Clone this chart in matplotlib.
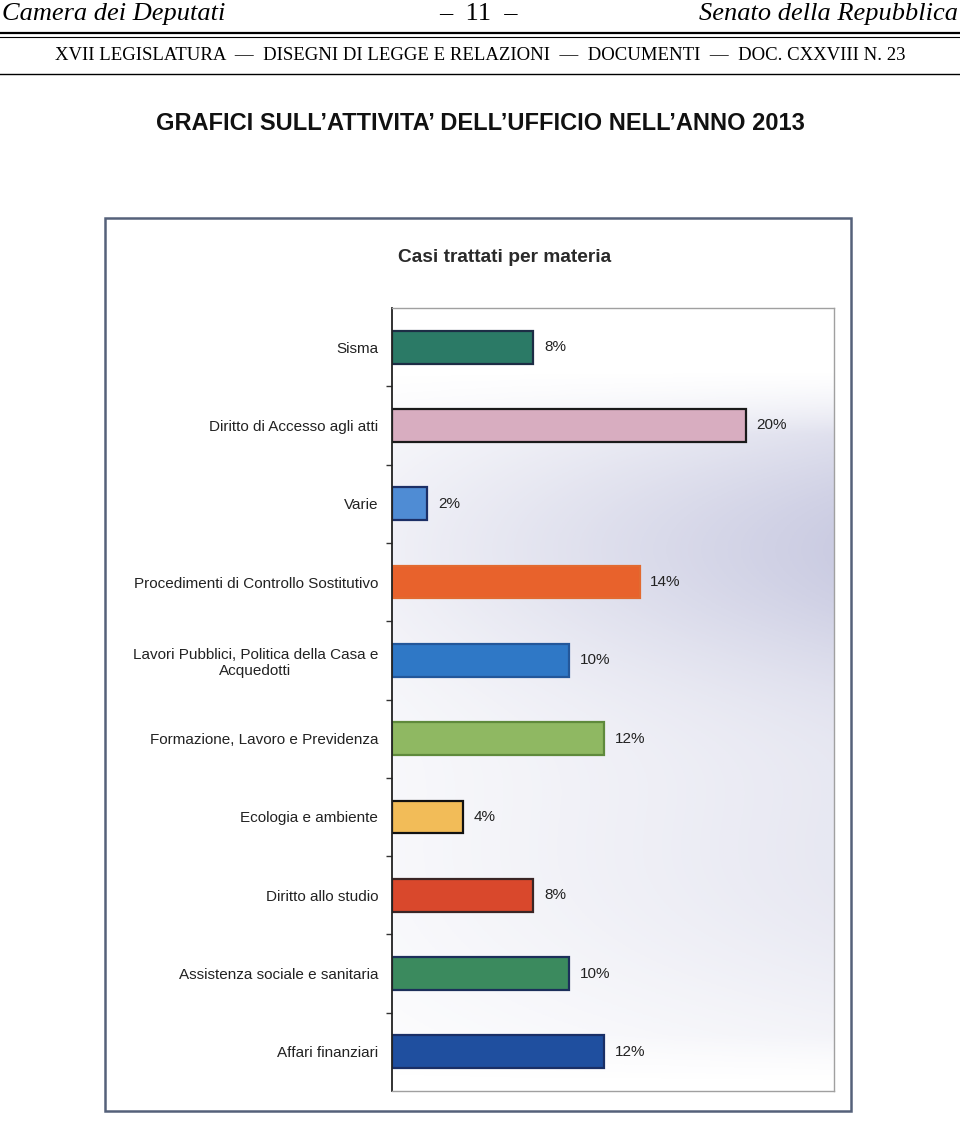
import matplotlib.pyplot as plt
import numpy as np

# data
categorie = [
    "Sisma",
    "Diritto di Accesso agli atti",
    "Varie",
    "Procedimenti di Controllo Sostitutivo",
    "Lavori Pubblici, Politica della Casa e\nAcquedotti",
    "Formazione, Lavoro e Previdenza",
    "Ecologia e ambiente",
    "Diritto allo studio",
    "Assistenza sociale e sanitaria",
    "Affari finanziari",
]
percentuali = [8, 20, 2, 14, 10, 12, 4, 8, 10, 12]

colori = ["#2b7a66", "#d8adc0", "#4f8cd4", "#e8622c", "#2f78c6",
          "#8fb862", "#f2bc58", "#d9482c", "#3b8a5e", "#1f4f9f"]
bordi = ["#1d2d45", "#1a1a1a", "#1c2f66", "#e26a30", "#23579a",
         "#5f8a3c", "#111111", "#3a2525", "#1c2f5a", "#1a2f66"]

W, H = 960, 1121
fig = plt.figure(figsize=(W / 100, H / 100), dpi=100)
plt.rcParams['font.family'] = ['Liberation Sans', 'DejaVu Sans']


def fx(px):
    return px / W


def fy(py):
    return 1 - py / H


# page header
serif = ['Liberation Serif', 'DejaVu Serif']
fig.text(fx(2), fy(14), "Camera dei Deputati", family=serif, style='italic',
         fontsize=19, ha='left', va='center')
fig.text(fx(478), fy(14), "\u2013  11  \u2013", family=serif,
         fontsize=19, ha='center', va='center')
fig.text(fx(958), fy(14), "Senato della Repubblica", family=serif, style='italic',
         fontsize=19, ha='right', va='center')
fig.add_artist(plt.Line2D([0, 1], [fy(33), fy(33)], color='black', lw=1.6))
fig.add_artist(plt.Line2D([0, 1], [fy(37), fy(37)], color='black', lw=0.8))
fig.text(fx(480), fy(56),
         "XVII LEGISLATURA  \u2014  DISEGNI DI LEGGE E RELAZIONI  \u2014  DOCUMENTI  \u2014  DOC. CXXVIII N. 23",
         family=serif, fontsize=13.5, ha='center', va='center')
fig.add_artist(plt.Line2D([0, 1], [fy(74), fy(74)], color='black', lw=1.0))

fig.text(fx(480), fy(124), "GRAFICI SULL\u2019ATTIVITA\u2019 DELL\u2019UFFICIO NELL\u2019ANNO 2013",
         fontsize=17, fontweight='bold', ha='center', va='center', color='#111111')

# frame around the chart
fig.add_artist(plt.Rectangle((fx(105), fy(1111)), fx(851) - fx(105), fy(218) - fy(1111),
                             fill=False, edgecolor='#55617a', lw=1.8))
fig.text(fx(505), fy(258), "Casi trattati per materia", fontsize=13.8,
         fontweight='bold', ha='center', va='center', color='#2a2a2a')

ax = fig.add_axes([fx(392), fy(1091), fx(834) - fx(392), fy(308) - fy(1091)])

# faint bluish haze of the scan behind the bars (row 0 = top of the axes)
gx = np.linspace(0, 1, 200)
gy = np.linspace(0, 1, 300)
X, Y = np.meshgrid(gx, gy)
alpha = (0.3 + 0.7 * X) * (np.exp(-((Y - 0.30) / 0.20) ** 2) * 0.55
                           + np.exp(-((Y - 0.72) / 0.25) ** 2) * 0.25)
alpha *= np.clip((Y - 0.08) / 0.08, 0, 1) * np.clip((0.99 - Y) / 0.06, 0, 1)
haze = np.zeros((300, 200, 4))
haze[..., 0] = 0.64
haze[..., 1] = 0.65
haze[..., 2] = 0.80
haze[..., 3] = alpha
ax.imshow(haze, extent=[0, 1, 0, 1], transform=ax.transAxes, aspect='auto', zorder=0)

pos = np.arange(len(categorie))
ax.barh(pos, percentuali, height=0.42, color=colori, edgecolor=bordi,
        linewidth=1.6, zorder=2)
for p, v in zip(pos, percentuali):
    ax.text(v + 0.6, p, f"{v}%", va='center', ha='left', fontsize=11, color='#222222')

ax.set_xlim(0, 25)
ax.set_ylim(len(categorie) - 0.5, -0.5)
ax.set_xticks([])
ax.set_yticks(pos)
ax.set_yticklabels(categorie, fontsize=11, color='#222222', multialignment='center')
ax.set_yticks(pos[:-1] + 0.5, minor=True)
ax.tick_params(axis='y', which='major', length=0, pad=10)
ax.tick_params(axis='y', which='minor', length=4, width=1, color='#333333')
ax.spines['left'].set_color('#222222')
ax.spines['left'].set_linewidth(1.3)
for s in ['top', 'right', 'bottom']:
    ax.spines[s].set_color('#a0a0a0')
    ax.spines[s].set_linewidth(1.0)
ax.set_facecolor('white')

fig.savefig("out.png", dpi=100)
